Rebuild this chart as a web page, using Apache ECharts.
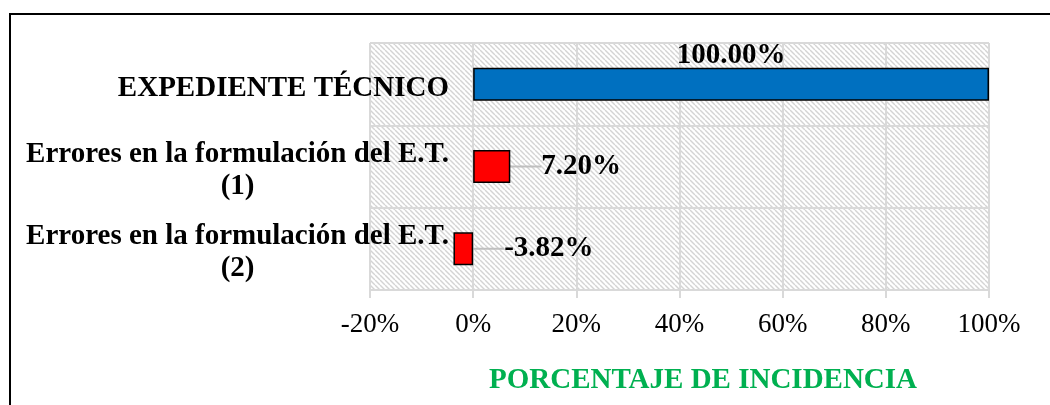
<!DOCTYPE html>
<html>
<head>
<meta charset="utf-8">
<script src="https://cdn.jsdelivr.net/npm/echarts@6/dist/echarts.min.js"></script>
<style>
  html, body { margin: 0; padding: 0; background: #fff; }
  #chart { width: 1050px; height: 405px; }
</style>
</head>
<body>
<div id="chart"></div>
<script>
// chart data
var categories = [
  'EXPEDIENTE TÉCNICO',
  'Errores en la formulación del E.T.\n(1)',
  'Errores en la formulación del E.T.\n(2)'
];
var values = [100, 7.20, -3.82];
var barColors = ['#0070C0', '#FF0000', '#FF0000'];
var tickMin = -20;
var tickMax = 100;
var tickStep = 20;
var axisTitle = 'PORCENTAJE DE INCIDENCIA';

var serif = '"Liberation Serif", "Times New Roman", serif';

// diagonal hatch for the plot area
function makeHatch() {
  var p = 5;
  var c = document.createElement('canvas');
  c.width = p;
  c.height = p;
  var ctx = c.getContext('2d');
  ctx.fillStyle = '#ffffff';
  ctx.fillRect(0, 0, p, p);
  ctx.strokeStyle = '#d4d4d4';
  ctx.lineWidth = 1.4;
  for (var k = -1; k <= 1; k++) {
    ctx.beginPath();
    ctx.moveTo(k * p, 0);
    ctx.lineTo(k * p + p, p);
    ctx.stroke();
  }
  return c;
}

var chart = echarts.init(document.getElementById('chart'));

chart.setOption({
  animation: false,
  title: {
    text: axisTitle,
    left: 698,
    top: 361,
    textAlign: 'center',
    textStyle: {
      color: '#00B050',
      fontFamily: serif,
      fontWeight: 'bold',
      fontSize: 29,
    },
  },
  graphic: [{
    type: 'rect',
    shape: { x: 10, y: 14, width: 1100, height: 500 },
    style: { fill: 'none', stroke: '#000', lineWidth: 2 },
    silent: true,
  }],
  grid: {
    left: 370,
    right: 61,
    top: 43,
    bottom: 115,
    containLabel: false,
    outerBoundsMode: 'none',
    show: true,
    borderWidth: 0,
    backgroundColor: { image: makeHatch(), repeat: 'repeat' },
  },
  xAxis: {
    type: 'value',
    min: tickMin,
    max: tickMax,
    interval: tickStep,
    axisLine: { show: true, lineStyle: { color: '#d9d9d9', width: 2 } },
    axisTick: { show: true, length: 8, lineStyle: { color: '#d9d9d9', width: 2 } },
    splitLine: { show: true, lineStyle: { color: '#d9d9d9', width: 2 } },
    axisLabel: {
      margin: 21,
      color: '#000',
      fontFamily: serif,
      fontSize: 27,
      formatter: '{value}%',
    },
  },
  yAxis: {
    type: 'category',
    inverse: true,
    data: categories,
    axisLine: { show: false, onZero: false },
    axisTick: { show: false },
    splitLine: { show: true, lineStyle: { color: '#d9d9d9', width: 2 } },
    axisLabel: {
      // labels overlap the left edge of the plot, as in the source
      margin: -79,
      align: 'right',
      padding: [8, 0, 0, 0],
      formatter: function (v) {
        return v.split('\n').map(function (s) { return '{c|' + s + '}'; }).join('\n');
      },
      rich: {
        c: {
          align: 'center',
          color: '#000',
          fontFamily: serif,
          fontWeight: 'bold',
          fontSize: 29,
          lineHeight: 32,
        },
      },
    },
  },
  series: [{
    type: 'bar',
    barWidth: 33,
    data: values.map(function (v, i) {
      var item = {
        value: v,
        itemStyle: { color: barColors[i], borderColor: '#000', borderWidth: 1.5 },
      };
      if (i > 0) {
        item.label = {
          position: 'right',
          distance: 0,
          padding: [0, 0, 0, 7],
        };
      } else {
        item.labelLine = { show: false };
      }
      return item;
    }),
    label: {
      show: true,
      position: 'top',
      distance: -2,
      color: '#000',
      fontFamily: serif,
      fontWeight: 'bold',
      fontSize: 29,
      formatter: function (p) { return p.value.toFixed(2) + '%'; },
    },
    labelLine: { show: true, lineStyle: { color: '#bfbfbf', width: 2 } },
    labelLayout: function (p) {
      return p.dataIndex > 0 ? { dx: 24 } : {};
    },
  }],
});
</script>
</body>
</html>
